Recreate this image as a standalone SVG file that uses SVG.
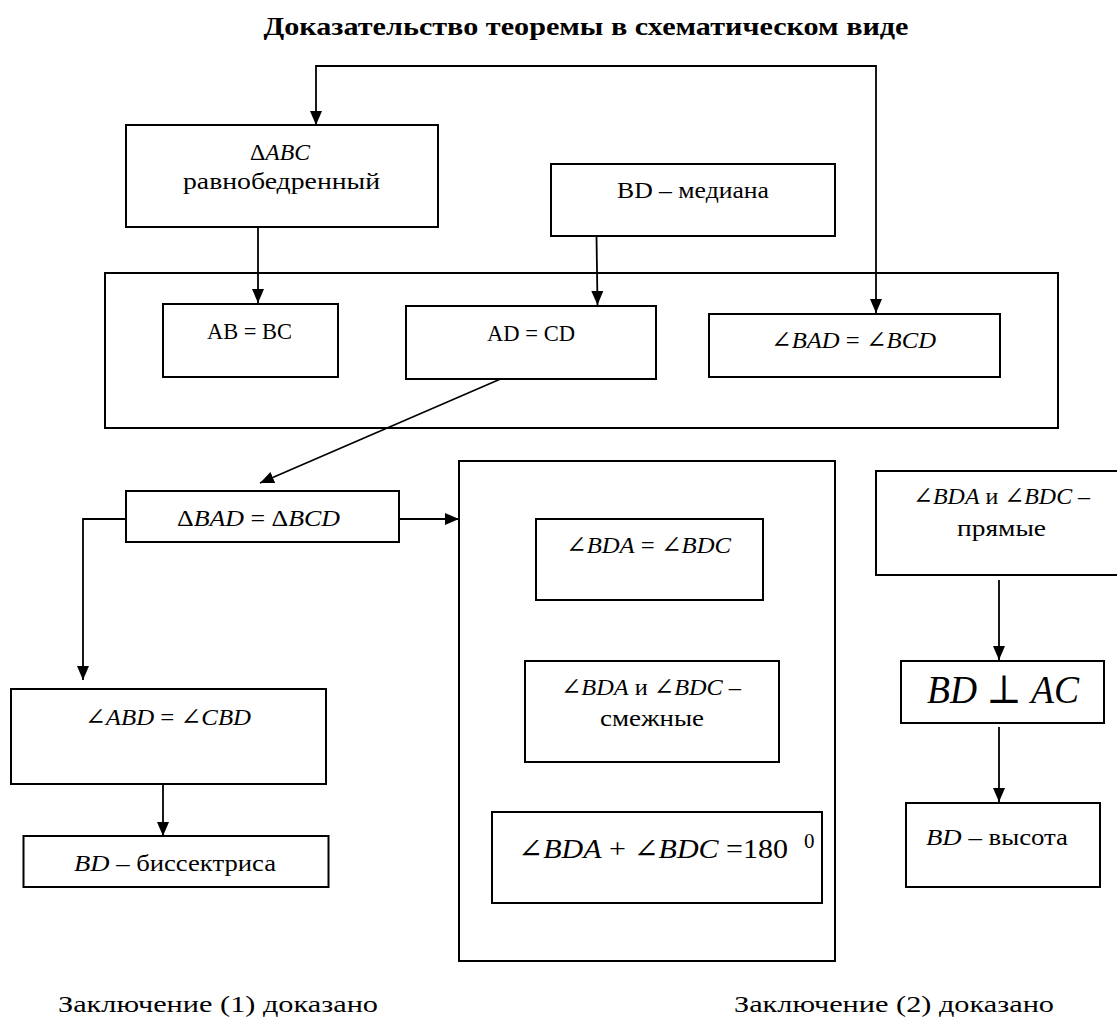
<svg xmlns="http://www.w3.org/2000/svg" width="1117" height="1025" viewBox="0 0 1117 1025">
<style>
  .box { fill: #fff; stroke: #000; stroke-width: 2; }
  .frame { fill: none; stroke: #000; stroke-width: 2; }
  .conn { fill: none; stroke: #000; stroke-width: 1.8; }
  text { font-family: "Liberation Serif", "DejaVu Serif", serif; fill: #000; }
  .t { font-size: 24px; }
  .title { font-size: 26px; font-weight: bold; }
  .m { font-style: italic; }
  .tm { font-size: 27px; font-style: italic; }
  .sup { font-size: 21px; font-style: normal; }
  .big { font-size: 40px; font-style: italic; }
  .up { font-style: normal; }
</style>
<defs>
  <marker id="arr" viewBox="0 0 14 12" refX="14" refY="6" markerWidth="14" markerHeight="12" markerUnits="userSpaceOnUse" orient="auto-start-reverse">
    <path d="M0 0 L14 6 L0 12 Z" fill="#000"/>
  </marker>
</defs>

<text class="title" x="263.5" y="35" textLength="645" lengthAdjust="spacingAndGlyphs">Доказательство теоремы в схематическом виде</text>

<g id="connectors">
  <path class="conn" d="M316 125 L316 66 L876 66 L876 313" marker-start="url(#arr)" marker-end="url(#arr)"/>
  <path class="conn" d="M258 227 L258 303" marker-end="url(#arr)"/>
  <path class="conn" d="M596.5 236 L597.5 305" marker-end="url(#arr)"/>
  <path class="conn" d="M500.5 379 L260 483" marker-end="url(#arr)"/>
  <path class="conn" d="M398.7 519 L459 519" marker-end="url(#arr)"/>
  <path class="conn" d="M125 519 L83 519 L83 680" marker-end="url(#arr)"/>
  <path class="conn" d="M163 784 L163 836" marker-end="url(#arr)"/>
  <path class="conn" d="M999 580 L999 660" marker-end="url(#arr)"/>
  <path class="conn" d="M999 727 L999 802" marker-end="url(#arr)"/>
</g>

<g id="group-top">
  <rect class="frame" x="105" y="273" width="953" height="155"/>
</g>
<g id="group-middle">
  <rect class="frame" x="459" y="461" width="376" height="500"/>
</g>

<g id="n-abc">
  <rect class="box" x="126" y="125" width="312" height="102"/>
  <text class="t" x="250" y="160" textLength="60" lengthAdjust="spacingAndGlyphs"><tspan>Δ</tspan><tspan class="m">ABC</tspan></text>
  <text class="t" x="183" y="189" textLength="197" lengthAdjust="spacingAndGlyphs">равнобедренный</text>
</g>

<g id="n-median">
  <rect class="box" x="551" y="164" width="284" height="72"/>
  <text class="t" x="617" y="198" textLength="152" lengthAdjust="spacingAndGlyphs">BD – медиана</text>
</g>

<g id="n-ab-bc">
  <rect class="box" x="163" y="304" width="175" height="73"/>
  <text class="t" x="207" y="339" textLength="85" lengthAdjust="spacingAndGlyphs">AB = BC</text>
</g>

<g id="n-ad-cd">
  <rect class="box" x="406" y="306" width="250" height="73"/>
  <text class="t" x="487" y="341" textLength="88" lengthAdjust="spacingAndGlyphs">AD = CD</text>
</g>

<g id="n-bad-bcd">
  <rect class="box" x="709" y="314" width="291" height="63"/>
  <text class="t" x="771" y="348" textLength="165" lengthAdjust="spacingAndGlyphs">∠<tspan class="m">BAD</tspan> = ∠<tspan class="m">BCD</tspan></text>
</g>

<g id="n-tri-eq">
  <rect class="box" x="126" y="491" width="273" height="51"/>
  <text class="t" x="177" y="526" textLength="163" lengthAdjust="spacingAndGlyphs">Δ<tspan class="m">BAD</tspan> = Δ<tspan class="m">BCD</tspan></text>
</g>

<g id="n-abd-cbd">
  <rect class="box" x="11" y="689" width="315" height="95"/>
  <text class="t" x="85" y="725" textLength="166" lengthAdjust="spacingAndGlyphs">∠<tspan class="m">ABD</tspan> = ∠<tspan class="m">CBD</tspan></text>
</g>

<g id="n-bisector">
  <rect class="box" x="23.5" y="836" width="305" height="51"/>
  <text class="t" x="74" y="871" textLength="202" lengthAdjust="spacingAndGlyphs"><tspan class="m">BD</tspan> – биссектриса</text>
</g>

<g id="n-bda-bdc">
  <rect class="box" x="536" y="519" width="227" height="81"/>
  <text class="t" x="566" y="553" textLength="165" lengthAdjust="spacingAndGlyphs">∠<tspan class="m">BDA</tspan> = ∠<tspan class="m">BDC</tspan></text>
</g>

<g id="n-adjacent">
  <rect class="box" x="525" y="661" width="254" height="101"/>
  <text class="t" x="561" y="695" textLength="180" lengthAdjust="spacingAndGlyphs">∠<tspan class="m">BDA</tspan> и ∠<tspan class="m">BDC</tspan> –</text>
  <text class="t" x="600" y="726" textLength="104" lengthAdjust="spacingAndGlyphs">смежные</text>
</g>

<g id="n-sum">
  <rect class="box" x="492" y="812" width="330" height="91"/>
  <text class="tm" x="518" y="858" textLength="270" lengthAdjust="spacingAndGlyphs"><tspan class="up">∠</tspan>BDA<tspan class="up"> + ∠</tspan>BDC<tspan class="up"> =180</tspan></text>
  <text class="sup" x="804" y="848">0</text>
</g>

<g id="n-right-angles">
  <rect class="box" x="876" y="471" width="250" height="104"/>
  <text class="t" x="913" y="504" textLength="177" lengthAdjust="spacingAndGlyphs">∠<tspan class="m">BDA</tspan> и ∠<tspan class="m">BDC</tspan> –</text>
  <text class="t" x="957" y="536" textLength="89" lengthAdjust="spacingAndGlyphs">прямые</text>
</g>

<g id="n-perp">
  <rect class="box" x="901" y="661" width="203" height="62"/>
  <text class="big" x="927" y="703" textLength="152" lengthAdjust="spacingAndGlyphs">BD<tspan class="up"> ⊥ </tspan>AC</text>
</g>

<g id="n-height">
  <rect class="box" x="906" y="803" width="194" height="84"/>
  <text class="t" x="926" y="845" textLength="142" lengthAdjust="spacingAndGlyphs"><tspan class="m">BD</tspan> – высота</text>
</g>

<text class="t" x="58" y="1012" textLength="320" lengthAdjust="spacingAndGlyphs">Заключение (1) доказано</text>
<text class="t" x="734" y="1012" textLength="320" lengthAdjust="spacingAndGlyphs">Заключение (2) доказано</text>
</svg>
